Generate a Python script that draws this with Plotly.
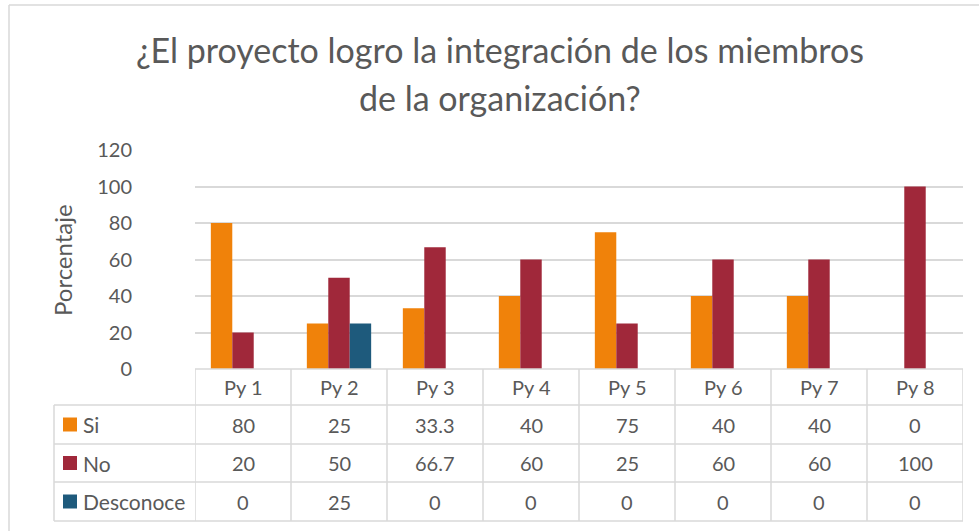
import plotly.graph_objects as go

categories = ["Py 1", "Py 2", "Py 3", "Py 4", "Py 5", "Py 6", "Py 7", "Py 8"]
series_names = ["Si", "No", "Desconoce"]
si_values = [80, 25, 33.3, 40, 75, 40, 40, 0]
no_values = [20, 50, 66.7, 60, 25, 60, 60, 100]
desconoce_values = [0, 25, 0, 0, 0, 0, 0, 0]
y_ticks = [0, 20, 40, 60, 80, 100, 120]
title_lines = ["¿El proyecto logro la integración de los miembros", "de la organización?"]
y_title = "Porcentaje"

colors = ["#F0820A", "#A0283A", "#1E5A7C"]
series_values = [si_values, no_values, desconoce_values]

W, H = 979, 531
FONT = "Lato"
TXT = "#595959"
GRID = "#D9D9D9"


def px(x):
    return x / W


def py(y):
    return 1 - y / H


plot_l, plot_r = 195, 963
plot_top, plot_bot = 150, 369
row_lines = [369, 405, 444, 482, 521]
table_left = 54

fig = go.Figure()
for name, vals, col in zip(series_names, series_values, colors):
    fig.add_trace(go.Bar(x=categories, y=vals, name=name, marker=dict(color=col, line=dict(width=0)),
                         showlegend=False, hoverinfo="x+y+name"))

shapes = []
annotations = []

# chart border
shapes.append(dict(type="line", xref="paper", yref="paper", x0=px(9), x1=1.0, y0=py(5), y1=py(5),
                   line=dict(color=GRID, width=1.5)))
shapes.append(dict(type="line", xref="paper", yref="paper", x0=px(9), x1=px(9), y0=py(5), y1=0,
                   line=dict(color=GRID, width=1.5)))

# table horizontal lines
shapes.append(dict(type="line", xref="paper", yref="paper", x0=px(plot_l), x1=px(plot_r),
                   y0=py(row_lines[0]), y1=py(row_lines[0]), line=dict(color=GRID, width=1.5)))
for yl in row_lines[1:]:
    shapes.append(dict(type="line", xref="paper", yref="paper", x0=px(table_left), x1=px(plot_r),
                       y0=py(yl), y1=py(yl), line=dict(color=GRID, width=1.5)))
# table vertical lines (category boundaries, in data coords)
n = len(categories)
for i in range(n + 1):
    shapes.append(dict(type="line", xref="x", yref="paper", x0=i - 0.5, x1=i - 0.5,
                       y0=py(row_lines[0]), y1=py(row_lines[-1]), line=dict(color=GRID, width=1.5)))
shapes.append(dict(type="line", xref="paper", yref="paper", x0=px(table_left), x1=px(table_left),
                   y0=py(row_lines[1]), y1=py(row_lines[-1]), line=dict(color=GRID, width=1.5)))

# header labels
for c in categories:
    annotations.append(dict(x=c, xref="x", y=py((row_lines[0] + row_lines[1]) / 2), yref="paper",
                            text=c, showarrow=False, font=dict(family=FONT, size=20, color=TXT),
                            xanchor="center", yanchor="middle"))

# rows
for r, (name, vals, col) in enumerate(zip(series_names, series_values, colors)):
    yc = (row_lines[r + 1] + row_lines[r + 2]) / 2
    shapes.append(dict(type="rect", xref="paper", yref="paper", x0=px(63), x1=px(77),
                       y0=py(yc - 7), y1=py(yc + 7), fillcolor=col, line=dict(width=0)))
    annotations.append(dict(x=px(81), xref="paper", y=py(yc), yref="paper", text=name,
                            showarrow=False, font=dict(family=FONT, size=21, color=TXT),
                            xanchor="left", yanchor="middle"))
    for c, v in zip(categories, vals):
        annotations.append(dict(x=c, xref="x", y=py(yc), yref="paper", text=f"{v:g}",
                                showarrow=False, font=dict(family=FONT, size=20, color=TXT),
                                xanchor="center", yanchor="middle"))

# y title
annotations.append(dict(x=px(62), xref="paper", y=py(260), yref="paper", text=y_title, textangle=-90,
                        showarrow=False, font=dict(family=FONT, size=24, color=TXT),
                        xanchor="center", yanchor="middle"))
# title (two lines)
for line, yc in zip(title_lines, [50, 97]):
    annotations.append(dict(x=px(500), xref="paper", y=py(yc), yref="paper", text=line,
                            showarrow=False, font=dict(family=FONT, size=34, color=TXT),
                            xanchor="center", yanchor="middle", align="center"))

fig.update_layout(
    template="none",
    width=W, height=H, autosize=False,
    margin=dict(l=0, r=0, t=0, b=0, pad=0, autoexpand=False),
    paper_bgcolor="white", plot_bgcolor="white",
    barmode="group", bargap=0.33, bargroupgap=0,
    shapes=shapes, annotations=annotations,
    xaxis=dict(domain=[px(plot_l), px(plot_r)], showticklabels=False, showgrid=False, automargin=False,
               zeroline=False, showline=False, ticks="", range=[-0.5, n - 0.5]),
    yaxis=dict(domain=[py(plot_bot), py(plot_top)], range=[0, 120], tickvals=y_ticks, automargin=False,
               showgrid=True, gridcolor=GRID, gridwidth=1.5, zeroline=False, showline=False,
               ticks="outside", ticklen=58, tickcolor="rgba(0,0,0,0)",
               tickfont=dict(family=FONT, size=20, color=TXT)),
    font=dict(family=FONT, color=TXT),
)

fig.write_html("out.html", config={"displayModeBar": False},
               post_script="document.body.style.margin='0';document.body.style.overflow='hidden';")
